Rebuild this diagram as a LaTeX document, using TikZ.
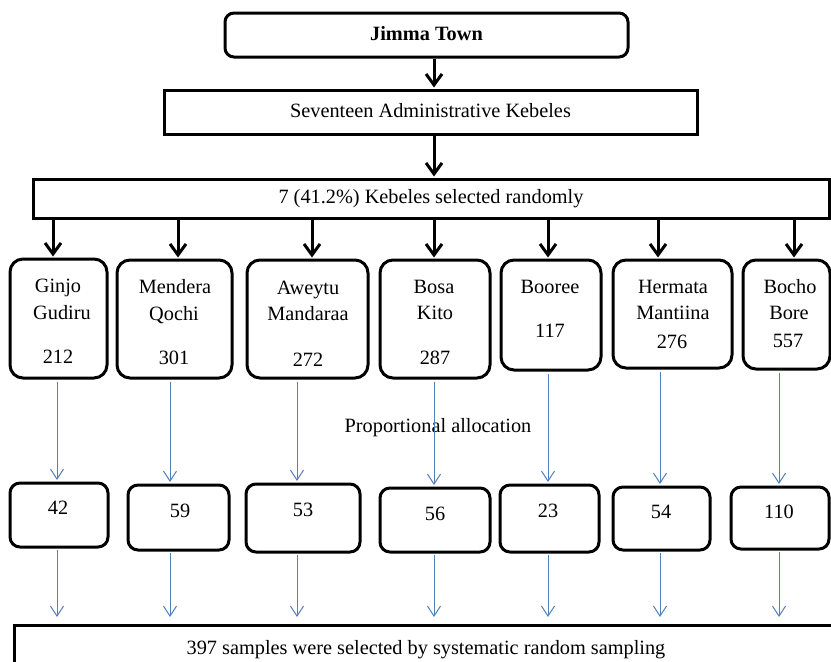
\documentclass[tikz,border=0pt]{standalone}
\usepackage{fontspec}
\setmainfont{Liberation Serif}
\usetikzlibrary{arrows.meta}
\definecolor{arrowblue}{RGB}{79,129,189}
\begin{document}
\begin{tikzpicture}[x=1pt,y=-1pt,
  txt/.style={inner sep=0pt, font=\fontsize{20.3}{24}\selectfont, text height=14pt, text depth=4pt},
  rbox/.style={draw=black, line width=3pt, rounded corners=13pt, inner sep=0pt},
  nbox/.style={draw=black, line width=3pt, rounded corners=10pt, inner sep=0pt},
  sqbox/.style={draw=black, line width=3pt, inner sep=0pt, txt},
  blk/.style={line width=3pt, -{Straight Barb[length=11pt,width=16pt]}, shorten >=1pt},
  blu/.style={draw=arrowblue, line width=1pt, -{Straight Barb[length=10pt,width=13pt]}}
]
\clip (0,0) rectangle (831,662);
\fill[white] (0,0) rectangle (831,662);

% top chain
\node[sqbox, rounded corners=9pt, minimum width=403pt, minimum height=44pt] (jt) at (426.5,35) {\bfseries Jimma Town};
\node[sqbox, minimum width=533pt, minimum height=44pt] (sak) at (430.5,112) {Seventeen Administrative Kebeles};
\node[sqbox, minimum width=796pt, minimum height=39pt] (k7) at (431,198.5) {7 (41.2\%) Kebeles selected randomly};

\coordinate (a0) at (434,0);
\draw[blk] (a0 |- jt.south) -- (a0 |- sak.north);
\draw[blk] (a0 |- sak.south) -- (a0 |- k7.north);

% kebele boxes
\node[rbox, minimum width=97pt,  minimum height=119pt] (g1) at (58.5,318.5) {};
\node[rbox, minimum width=115pt, minimum height=118pt] (g2) at (174.5,319) {};
\node[rbox, minimum width=121pt, minimum height=118pt] (g3) at (307.5,319) {};
\node[rbox, minimum width=110pt, minimum height=118pt] (g4) at (435,319) {};
\node[rbox, minimum width=100pt, minimum height=110pt] (g5) at (551,315) {};
\node[rbox, minimum width=119pt, minimum height=108pt] (g6) at (672.5,314) {};
\node[rbox, minimum width=87pt,  minimum height=109pt] (g7) at (786.5,314.5) {};

\node[txt] (g1a) at (58,287) {Ginjo};
\node[txt] (g1b) at (62,314) {Gudiru};
\node[txt] (g1c) at (58,358) {212};
\node[txt] (g2a) at (175,288) {Mendera};
\node[txt] (g2b) at (174,315) {Qochi};
\node[txt] (g2c) at (174,359) {301};
\node[txt] (g3a) at (308,289) {Aweytu};
\node[txt] (g3b) at (308,315) {Mandaraa};
\node[txt] (g3c) at (308,361) {272};
\node[txt] (g4a) at (434,288) {Bosa};
\node[txt] (g4b) at (435,314) {Kito};
\node[txt] (g4c) at (435,359) {287};
\node[txt] (g5a) at (550,288) {Booree};
\node[txt] (g5b) at (550,332) {117};
\node[txt] (g6a) at (673,288) {Hermata};
\node[txt] (g6b) at (673,314) {Mantiina};
\node[txt] (g6c) at (672,343) {276};
\node[txt] (g7a) at (790,288) {Bocho};
\node[txt] (g7b) at (789,314) {Bore};
\node[txt] (g7c) at (788,342) {557};

% black arrows to kebele boxes
\foreach \i/\x in {1/53,2/178,3/312,4/434,5/548,6/658,7/794}{
  \coordinate (c\i) at (\x,0);
  \draw[blk] (c\i |- k7.south) -- (c\i |- g\i.north);
}

\node[txt] (prop) at (438,427) {Proportional allocation};

% number boxes
\node[nbox, minimum width=98pt,  minimum height=64pt] (n1) at (59,515) {};
\node[nbox, minimum width=101pt, minimum height=65pt] (n2) at (178.5,517.5) {};
\node[nbox, minimum width=114pt, minimum height=68pt] (n3) at (303,518) {};
\node[nbox, minimum width=110pt, minimum height=64pt] (n4) at (435,520) {};
\node[nbox, minimum width=99pt,  minimum height=67pt] (n5) at (549.5,518.5) {};
\node[nbox, minimum width=97pt,  minimum height=63pt] (n6) at (661.5,518.5) {};
\node[nbox, minimum width=98pt,  minimum height=62pt] (n7) at (780,518) {};

\node[txt] (n1t) at (58,509) {42};
\node[txt] (n2t) at (180,512) {59};
\node[txt] (n3t) at (303,511) {53};
\node[txt] (n4t) at (435,515) {56};
\node[txt] (n5t) at (548,512) {23};
\node[txt] (n6t) at (661,513) {54};
\node[txt] (n7t) at (779,513) {110};

% bottom box
\node[sqbox, anchor=north west, minimum width=900pt, minimum height=100pt] (bot) at (13,624) {};
\node[txt] (bott) at (426,649) {397 samples were selected by systematic random sampling};

% blue arrows
\foreach \i/\x in {1/57,2/170,3/297,4/434,5/548,6/660,7/779}{
  \coordinate (d\i) at (\x,0);
  \draw[blu, shorten <=2pt, shorten >=1.5pt] (d\i |- g\i.south) -- (d\i |- n\i.north);
  \draw[blu, shorten <=1.5pt, shorten >=7pt] (d\i |- n\i.south) -- (d\i |- bot.north);
}
\end{tikzpicture}
\end{document}
